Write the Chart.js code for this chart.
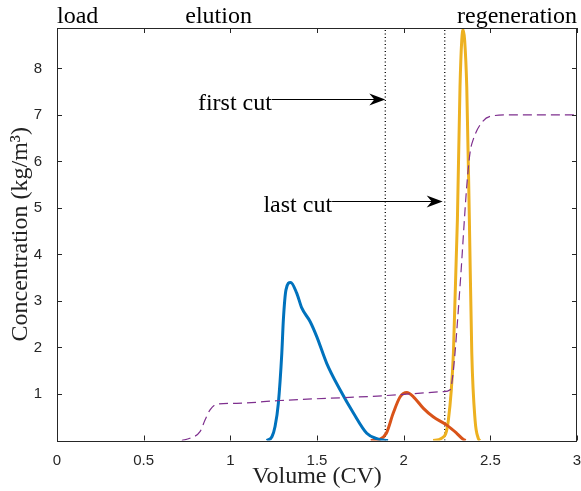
<!DOCTYPE html>
<html>
<head>
<meta charset="utf-8">
<script src="https://cdn.jsdelivr.net/npm/chart.js@4.4.1/dist/chart.umd.min.js"></script>
<style>
  html, body { margin: 0; padding: 0; background: #fff; }
  #wrap { width: 581px; height: 491px; }
</style>
</head>
<body>
<div id="wrap"><canvas id="chromChart" width="581" height="491"></canvas></div>
<script>
// values
const xTicks = [0, 0.5, 1, 1.5, 2, 2.5, 3];
const yTicks = [1, 2, 3, 4, 5, 6, 7, 8];

const blueX = [1.21, 1.24, 1.258, 1.277, 1.297, 1.306, 1.321, 1.348, 1.383, 1.412, 1.46, 1.498, 1.556, 1.633, 1.71, 1.787, 1.845, 1.88, 1.91];
const blueY = [0, 0.08, 0.30, 0.80, 1.88, 2.6, 3.24, 3.40, 3.17, 2.85, 2.56, 2.24, 1.66, 1.09, 0.59, 0.155, 0.04, 0.01, 0];

const orangeX = [1.81, 1.864, 1.90, 1.94, 1.98, 2.018, 2.056, 2.114, 2.17, 2.249, 2.306, 2.345, 2.358];
const orangeY = [0, 0.03, 0.155, 0.59, 0.94, 1.03, 0.94, 0.69, 0.51, 0.33, 0.155, 0.02, 0];

const yellowX = [2.17, 2.22, 2.258, 2.287, 2.31, 2.325, 2.335, 2.343, 2.352, 2.364, 2.379, 2.393, 2.412, 2.43, 2.44];
const yellowY = [0, 0.05, 0.44, 1.88, 4.75, 7.6, 8.6, 8.83, 8.6, 7.6, 4.75, 1.88, 0.44, 0.05, 0];

const saltX = [0.72, 0.767, 0.825, 0.854, 0.883, 0.921, 1.037, 1.287, 1.893, 2.23, 2.268, 2.287, 2.325, 2.364, 2.383, 2.402, 2.451, 2.499, 2.595, 3];
const saltY = [0, 0.05, 0.19, 0.44, 0.66, 0.78, 0.80, 0.86, 0.965, 1.05, 1.09, 1.52, 3.31, 5.47, 6.19, 6.48, 6.84, 6.97, 7.0, 7.0];

const firstCut = 1.894;
const lastCut = 2.237;
const yMax = 8.87;

const toPts = (xs, ys) => xs.map((x, i) => ({ x: x, y: ys[i] }));
const serif = '"Liberation Serif", "DejaVu Serif", serif';
const sans = '"Liberation Sans", Arial, sans-serif';
const axisColor = '#262626';

// box, inward ticks, arrows and text labels
const decorations = {
  id: 'decorations',
  afterDraw(chart) {
    const ctx = chart.ctx;
    const a = chart.chartArea;
    const xs = chart.scales.x;
    const ys = chart.scales.y;
    ctx.save();
    ctx.strokeStyle = axisColor;
    ctx.lineWidth = 1;
    ctx.strokeRect(Math.round(a.left) + 0.5, Math.round(a.top) + 0.5,
      Math.round(a.right - a.left) - 1, Math.round(a.bottom - a.top));
    ctx.beginPath();
    xTicks.forEach((v) => {
      const px = Math.round(xs.getPixelForValue(v)) + 0.5;
      ctx.moveTo(px, a.bottom); ctx.lineTo(px, a.bottom - 5);
      ctx.moveTo(px, a.top); ctx.lineTo(px, a.top + 5);
    });
    yTicks.forEach((v) => {
      const py = Math.round(ys.getPixelForValue(v)) + 0.5;
      ctx.moveTo(a.left, py); ctx.lineTo(a.left + 5, py);
      ctx.moveTo(a.right, py); ctx.lineTo(a.right - 5, py);
    });
    ctx.stroke();

    // arrows
    const arrow = (x0, x1, yv, text) => {
      const px0 = xs.getPixelForValue(x0);
      const px1 = xs.getPixelForValue(x1);
      const py = Math.round(ys.getPixelForValue(yv)) + 0.5;
      ctx.strokeStyle = '#000';
      ctx.lineWidth = 1;
      ctx.beginPath();
      ctx.moveTo(px0, py); ctx.lineTo(px1 - 8, py);
      ctx.stroke();
      ctx.fillStyle = '#000';
      ctx.beginPath();
      ctx.moveTo(px1, py);
      ctx.lineTo(px1 - 16, py - 6);
      ctx.lineTo(px1 - 11, py);
      ctx.lineTo(px1 - 16, py + 6);
      ctx.closePath();
      ctx.fill();
      ctx.font = '24px ' + serif;
      ctx.textAlign = 'right';
      ctx.textBaseline = 'alphabetic';
      ctx.fillText(text, px0, py + 10);
    };
    arrow(1.24, firstCut, 7.34, 'first cut');
    arrow(1.587, lastCut - 0.012, 5.15, 'last cut');

    // phase labels above the box
    ctx.fillStyle = '#000';
    ctx.font = '24px ' + serif;
    ctx.textBaseline = 'alphabetic';
    ctx.textAlign = 'left';
    ctx.fillText('load', xs.getPixelForValue(0), a.top - 5);
    ctx.fillText('elution', xs.getPixelForValue(0.74), a.top - 5);
    ctx.textAlign = 'right';
    ctx.fillText('regeneration', xs.getPixelForValue(3), a.top - 5);
    ctx.restore();
  },
};

new Chart(document.getElementById('chromChart'), {
  type: 'line',
  data: {
    datasets: [
      {
        data: toPts(saltX, saltY),
        borderColor: '#7E2F8E',
        borderWidth: 1.2,
        borderDash: [9, 5],
        cubicInterpolationMode: 'monotone',
      },
      {
        data: toPts(blueX, blueY),
        borderColor: '#0072BD',
        borderWidth: 3,
        cubicInterpolationMode: 'monotone',
      },
      {
        data: toPts(orangeX, orangeY),
        borderColor: '#D95319',
        borderWidth: 3,
        cubicInterpolationMode: 'monotone',
      },
      {
        data: toPts(yellowX, yellowY),
        borderColor: '#EDB120',
        borderWidth: 3,
        cubicInterpolationMode: 'monotone',
      },
      {
        data: [{ x: firstCut, y: 0 }, { x: firstCut, y: yMax }],
        borderColor: '#000',
        borderWidth: 1.3,
        borderDash: [1, 2.5],
      },
      {
        data: [{ x: lastCut, y: 0 }, { x: lastCut, y: yMax }],
        borderColor: '#000',
        borderWidth: 1.3,
        borderDash: [1, 2.5],
      },
    ],
  },
  options: {
    responsive: false,
    animation: false,
    layout: { padding: { left: 0, right: 4, top: 28, bottom: 0 } },
    elements: { point: { radius: 0 } },
    plugins: { legend: { display: false }, tooltip: { enabled: false } },
    scales: {
      x: {
        type: 'linear',
        min: 0,
        max: 3,
        afterBuildTicks: (scale) => { scale.ticks = xTicks.map((v) => ({ value: v })); },
        afterFit: (scale) => {
          scale.height = 50.5;
          scale.paddingLeft = 0;
          scale.paddingRight = 0;
        },
        grid: { display: false },
        border: { display: false },
        ticks: {
          color: axisColor,
          font: { family: sans, size: 15 },
          padding: 3,
          maxRotation: 0,
          callback: (v) => String(v),
        },
        title: {
          display: true,
          text: 'Volume (CV)',
          color: '#222',
          font: { family: serif, size: 24 },
          padding: { top: 0, bottom: 0 },
        },
      },
      y: {
        min: 0,
        max: yMax,
        afterBuildTicks: (scale) => { scale.ticks = yTicks.map((v) => ({ value: v })); },
        afterFit: (scale) => {
          scale.width = 57;
          scale.paddingTop = 0;
          scale.paddingBottom = 0;
        },
        grid: { display: false },
        border: { display: false },
        ticks: {
          color: axisColor,
          font: { family: sans, size: 15 },
          padding: 7,
          callback: (v) => String(v),
        },
        title: {
          display: true,
          text: 'Concentration (kg/m³)',
          color: '#222',
          font: { family: serif, size: 24 },
          padding: { top: 6, bottom: 0 },
        },
      },
    },
  },
  plugins: [decorations],
});
</script>
</body>
</html>
